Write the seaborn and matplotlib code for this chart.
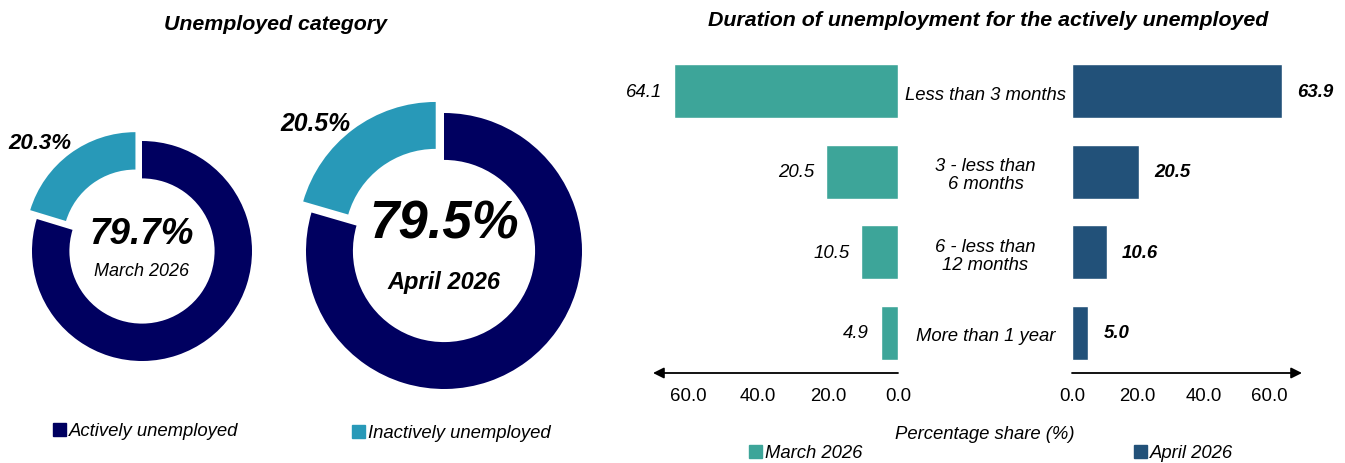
import pandas as pd
import numpy as np
import seaborn as sns
import matplotlib.pyplot as plt
from matplotlib.patches import Patch
from matplotlib.transforms import blended_transform_factory, offset_copy

# donut data
donut_labels = ['Actively unemployed', 'Inactively unemployed']
march_share = [79.7, 20.3]
april_share = [79.5, 20.5]

# duration data
durations = ['Less than 3 months', '3 - less than\n6 months',
             '6 - less than\n12 months', 'More than 1 year']
march_dur = [64.1, 20.5, 10.5, 4.9]
april_dur = [63.9, 20.5, 10.6, 5.0]
tick_vals = [0, 20, 40, 60]

navy = '#000060'
lightblue = '#2899B8'
teal = '#3DA599'
darkblue = '#225179'

sns.set_style('white')
plt.rcParams['font.family'] = ['Liberation Sans', 'DejaVu Sans']
plt.rcParams['text.color'] = 'black'
plt.rcParams['xtick.color'] = 'black'
plt.rcParams['axes.labelcolor'] = 'black'

W, H = 1345, 464
fig = plt.figure(figsize=(W / 100, H / 100), dpi=100)

def px_axes(x0, y0, x1, y1):
    # pixel box (top-left origin) -> figure axes
    return fig.add_axes([x0 / W, (H - y1) / H, (x1 - x0) / W, (y1 - y0) / H])

def donut(ax, vals):
    ax.pie(vals, colors=[navy, lightblue], startangle=90, counterclock=False,
           explode=[0, 0.1], wedgeprops=dict(width=0.34, linewidth=0))
    ax.set_xlim(-1.25, 1.25)
    ax.set_ylim(-1.25, 1.25)
    ax.set_aspect('equal')
    ax.axis('off')

def legend_item(label, color, x, y, size=13.3):
    fig.legend(handles=[Patch(color=color)], labels=[label], loc='center left',
               bbox_to_anchor=(x / W, 1 - y / H), frameon=False, borderpad=0,
               borderaxespad=0, handlelength=0.7, handleheight=0.7,
               handletextpad=0.15, prop=dict(style='italic', size=size))

# donut 1
ax1 = px_axes(142 - 137.5, 252 - 137.5, 142 + 137.5, 252 + 137.5)
donut(ax1, march_share)
ax1.text(0, 0.16, f'{march_share[0]}%', ha='center', va='center', fontsize=26.5,
         fontweight='bold', fontstyle='italic')
ax1.text(0, -0.18, 'March 2026', ha='center', va='center', fontsize=13,
         fontstyle='italic')
ax1.text(-0.93, 0.99, f'{march_share[1]}%', ha='center', va='center', fontsize=16,
         fontweight='bold', fontstyle='italic')

# donut 2
ax2 = px_axes(444 - 172.5, 252 - 172.5, 444 + 172.5, 252 + 172.5)
donut(ax2, april_share)
ax2.text(0, 0.2, f'{april_share[0]}%', ha='center', va='center', fontsize=38,
         fontweight='bold', fontstyle='italic')
ax2.text(0, -0.22, 'April 2026', ha='center', va='center', fontsize=17,
         fontweight='bold', fontstyle='italic')
ax2.text(-0.93, 0.93, f'{april_share[1]}%', ha='center', va='center', fontsize=17.8,
         fontweight='bold', fontstyle='italic')

fig.text(275 / W, 1 - 25 / H, 'Unemployed category', ha='center', va='center',
         fontsize=15.4, fontweight='bold', fontstyle='italic')
legend_item(donut_labels[0], navy, 53, 432)
legend_item(donut_labels[1], lightblue, 352, 434)

# butterfly bars
df = pd.DataFrame({'duration': durations, 'March 2026': march_dur,
                   'April 2026': april_dur})

axL = px_axes(653, 52, 898, 374)
axR = px_axes(1072, 52, 1302, 374)

sns.barplot(data=df, x='March 2026', y='duration', ax=axL, color=teal,
            width=0.67, orient='h', saturation=1)
sns.barplot(data=df, x='April 2026', y='duration', ax=axR, color=darkblue,
            width=0.67, orient='h', saturation=1)

axL.set_xlim(70, 0)
axR.set_xlim(0, 70)
for ax in (axL, axR):
    ax.set_ylim(3.5, -0.5)
    ax.set_xlabel('')
    ax.set_ylabel('')
    ax.set_yticks([])
    ax.set_xticks(tick_vals)
    ax.set_xticklabels([f'{v:.1f}' for v in tick_vals], fontsize=13.4)
    ax.tick_params(axis='x', length=0, pad=10)
    for s in ax.spines.values():
        s.set_visible(False)

axL.annotate('', xy=(0, 0), xytext=(1, 0), xycoords='axes fraction',
             arrowprops=dict(arrowstyle='-|>', color='black', lw=1.3,
                             mutation_scale=16, shrinkA=0, shrinkB=0))
axR.annotate('', xy=(1, 0), xytext=(0, 0), xycoords='axes fraction',
             arrowprops=dict(arrowstyle='-|>', color='black', lw=1.3,
                             mutation_scale=16, shrinkA=0, shrinkB=0))

axL.bar_label(axL.containers[0], fmt='%.1f', padding=8.5, fontsize=13.4,
              fontstyle='italic')
axR.bar_label(axR.containers[0], fmt='%.1f', padding=11, fontsize=13.4,
              fontstyle='italic', fontweight='bold')

# category names sit between the two halves, a touch below bar centre
trans = offset_copy(blended_transform_factory(fig.transFigure, axL.transData),
                    fig=fig, y=-3, units='dots')
for i, lab in enumerate(durations):
    axL.text(985.5 / W, i, lab, transform=trans, ha='center', va='center',
             fontsize=13.3, fontstyle='italic', linespacing=1.1)

fig.text(988 / W, 1 - 20 / H, 'Duration of unemployment for the actively unemployed',
         ha='center', va='center', fontsize=15.4, fontweight='bold', fontstyle='italic')
fig.text(985 / W, 1 - 435 / H, 'Percentage share (%)', ha='center', va='center',
         fontsize=13.3, fontstyle='italic')
legend_item('March 2026', teal, 749, 454)
legend_item('April 2026', darkblue, 1134, 454)

fig.savefig('out.png', dpi=100)
